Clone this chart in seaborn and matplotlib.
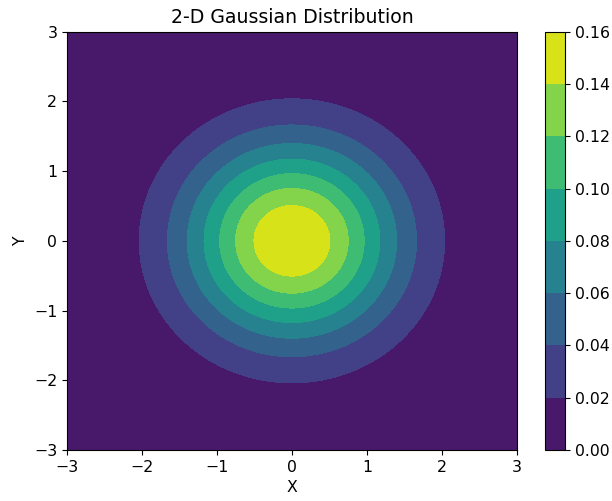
import numpy as np
import matplotlib
matplotlib.use("Agg")
import matplotlib.pyplot as plt
import seaborn as sns

# distribution parameters and plot settings
mean_x, mean_y = 0.0, 0.0
sigma = 1.0
x_range = [-3, 3]
y_range = [-3, 3]
levels = [0.00, 0.02, 0.04, 0.06, 0.08, 0.10, 0.12, 0.14, 0.16]
ticks = [-3, -2, -1, 0, 1, 2, 3]

# grid for the gaussian surface
x = np.linspace(x_range[0], x_range[1], 300)
y = np.linspace(y_range[0], y_range[1], 300)
X, Y = np.meshgrid(x, y)
Z = np.exp(-((X - mean_x) ** 2 + (Y - mean_y) ** 2) / (2 * sigma ** 2)) / (2 * np.pi * sigma ** 2)

cmap = sns.color_palette("viridis", as_cmap=True)

plt.rcParams["font.size"] = 11.3
plt.rcParams["axes.titlesize"] = 13.6

fig = plt.figure(figsize=(6.12, 5.01), dpi=100)
ax = fig.add_axes([0.1095, 0.1018, 0.735, 0.835])
cax = fig.add_axes([0.8905, 0.1018, 0.0327, 0.835])
cs = ax.contourf(X, Y, Z, levels=levels, cmap=cmap)
fig.colorbar(cs, cax=cax)
ax.set_xticks(ticks)
ax.set_yticks(ticks)
ax.set_title("2-D Gaussian Distribution")
ax.set_xlabel("X")
ax.set_ylabel("Y")

plt.savefig("out.png", dpi=100)
